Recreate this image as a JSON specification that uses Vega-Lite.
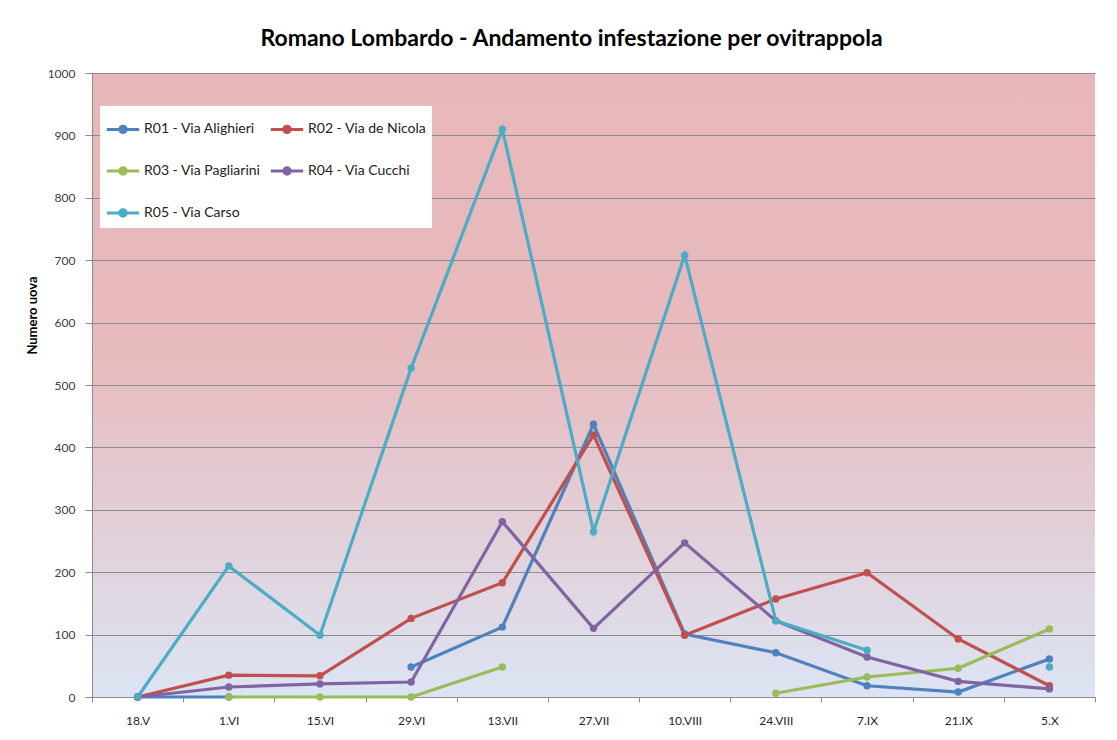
{
  "$schema": "https://vega.github.io/schema/vega-lite/v6.json",
  "width": 1003,
  "height": 624,
  "autosize": {"type": "none"},
  "padding": {"left": 92, "top": 73, "right": 22, "bottom": 43},
  "background": "white",
  "title": {
    "text": "Romano Lombardo - Andamento infestazione per ovitrappola",
    "font": "Lato",
    "fontSize": 23,
    "fontWeight": "bold",
    "color": "#000000",
    "anchor": "middle",
    "dx": -22,
    "offset": 16
  },
  "data": {
    "values": [
      {"date": "18.V", "series": "R01 - Via Alighieri", "value": 0},
      {"date": "1.VI", "series": "R01 - Via Alighieri", "value": 0},
      {"date": "15.VI", "series": "R01 - Via Alighieri", "value": null},
      {"date": "29.VI", "series": "R01 - Via Alighieri", "value": 48},
      {"date": "13.VII", "series": "R01 - Via Alighieri", "value": 112},
      {"date": "27.VII", "series": "R01 - Via Alighieri", "value": 437},
      {"date": "10.VIII", "series": "R01 - Via Alighieri", "value": 101},
      {"date": "24.VIII", "series": "R01 - Via Alighieri", "value": 71},
      {"date": "7.IX", "series": "R01 - Via Alighieri", "value": 18},
      {"date": "21.IX", "series": "R01 - Via Alighieri", "value": 8},
      {"date": "5.X", "series": "R01 - Via Alighieri", "value": 61},
      {"date": "18.V", "series": "R02 - Via de Nicola", "value": 0},
      {"date": "1.VI", "series": "R02 - Via de Nicola", "value": 35},
      {"date": "15.VI", "series": "R02 - Via de Nicola", "value": 34},
      {"date": "29.VI", "series": "R02 - Via de Nicola", "value": 126},
      {"date": "13.VII", "series": "R02 - Via de Nicola", "value": 183},
      {"date": "27.VII", "series": "R02 - Via de Nicola", "value": 420},
      {"date": "10.VIII", "series": "R02 - Via de Nicola", "value": 99},
      {"date": "24.VIII", "series": "R02 - Via de Nicola", "value": 157},
      {"date": "7.IX", "series": "R02 - Via de Nicola", "value": 199},
      {"date": "21.IX", "series": "R02 - Via de Nicola", "value": 93},
      {"date": "5.X", "series": "R02 - Via de Nicola", "value": 18},
      {"date": "18.V", "series": "R03 - Via Pagliarini", "value": null},
      {"date": "1.VI", "series": "R03 - Via Pagliarini", "value": 0},
      {"date": "15.VI", "series": "R03 - Via Pagliarini", "value": 0},
      {"date": "29.VI", "series": "R03 - Via Pagliarini", "value": 0},
      {"date": "13.VII", "series": "R03 - Via Pagliarini", "value": 48},
      {"date": "27.VII", "series": "R03 - Via Pagliarini", "value": null},
      {"date": "10.VIII", "series": "R03 - Via Pagliarini", "value": null},
      {"date": "24.VIII", "series": "R03 - Via Pagliarini", "value": 6},
      {"date": "7.IX", "series": "R03 - Via Pagliarini", "value": 32},
      {"date": "21.IX", "series": "R03 - Via Pagliarini", "value": 46},
      {"date": "5.X", "series": "R03 - Via Pagliarini", "value": 109},
      {"date": "18.V", "series": "R04 - Via Cucchi", "value": 0},
      {"date": "1.VI", "series": "R04 - Via Cucchi", "value": 16},
      {"date": "15.VI", "series": "R04 - Via Cucchi", "value": 21},
      {"date": "29.VI", "series": "R04 - Via Cucchi", "value": 24},
      {"date": "13.VII", "series": "R04 - Via Cucchi", "value": 281},
      {"date": "27.VII", "series": "R04 - Via Cucchi", "value": 110},
      {"date": "10.VIII", "series": "R04 - Via Cucchi", "value": 247},
      {"date": "24.VIII", "series": "R04 - Via Cucchi", "value": 122},
      {"date": "7.IX", "series": "R04 - Via Cucchi", "value": 64},
      {"date": "21.IX", "series": "R04 - Via Cucchi", "value": 25},
      {"date": "5.X", "series": "R04 - Via Cucchi", "value": 13},
      {"date": "18.V", "series": "R05 - Via Carso", "value": 0},
      {"date": "1.VI", "series": "R05 - Via Carso", "value": 210},
      {"date": "15.VI", "series": "R05 - Via Carso", "value": 99},
      {"date": "29.VI", "series": "R05 - Via Carso", "value": 527},
      {"date": "13.VII", "series": "R05 - Via Carso", "value": 910},
      {"date": "27.VII", "series": "R05 - Via Carso", "value": 265},
      {"date": "10.VIII", "series": "R05 - Via Carso", "value": 708},
      {"date": "24.VIII", "series": "R05 - Via Carso", "value": 122},
      {"date": "7.IX", "series": "R05 - Via Carso", "value": 75},
      {"date": "21.IX", "series": "R05 - Via Carso", "value": null},
      {"date": "5.X", "series": "R05 - Via Carso", "value": 48}
    ]
  },
  "encoding": {
    "x": {
      "field": "date",
      "type": "nominal",
      "sort": null,
      "scale": {"type": "band", "paddingInner": 0, "paddingOuter": 0,
        "domain": ["18.V","1.VI","15.VI","29.VI","13.VII","27.VII","10.VIII","24.VIII","7.IX","21.IX","5.X"]},
      "axis": {
        "title": null,
        "labelAngle": 0,
        "tickBand": "extent",
        "grid": false,
        "tickSize": 5,
        "tickColor": "#8c8c8c",
        "domainColor": "#8c8c8c",
        "labelFont": "Lato",
        "labelFontSize": 12,
        "labelColor": "#262626",
        "labelPadding": 13
      }
    },
    "y": {
      "field": "value",
      "type": "quantitative",
      "scale": {"domain": [0, 1000], "nice": false, "zero": true},
      "axis": {
        "title": "Numero uova",
        "titleFont": "Lato",
        "titleFontSize": 13,
        "titleFontWeight": "bold",
        "titleColor": "#000000",
        "titleX": -60,
        "titleY": 242,
        "titleAngle": -90,
        "titleAlign": "center",
        "titleBaseline": "middle",
        "values": [0,100,200,300,400,500,600,700,800,900,1000],
        "format": "d",
        "grid": true,
        "gridColor": "#8c8c8c",
        "gridWidth": 1.2,
        "tickSize": 7,
        "tickColor": "#8c8c8c",
        "domainColor": "#8c8c8c",
        "labelFont": "Lato",
        "labelFontSize": 12,
        "labelColor": "#404040",
        "labelPadding": 10
      }
    },
    "color": {
      "field": "series",
      "type": "nominal",
      "scale": {
        "domain": ["R01 - Via Alighieri","R02 - Via de Nicola","R03 - Via Pagliarini","R04 - Via Cucchi","R05 - Via Carso"],
        "range": ["#4F81BD","#C0504D","#9BBB59","#8064A2","#4BACC6"]
      },
      "legend": {
        "title": null,
        "orient": "none",
        "legendX": 8,
        "legendY": 33,
        "columns": 2,
        "direction": "horizontal",
        "fillColor": "white",
        "padding": 5,
        "rowPadding": 14,
        "columnPadding": 3,
        "symbolType": "M-1,0L1,0M0.2,0A0.2,0.2 0 1,1 -0.2,0A0.2,0.2 0 1,1 0.2,0Z",
        "symbolSize": 1050,
        "symbolStrokeWidth": 3,
        "labelFont": "Lato",
        "labelFontSize": 14,
        "labelColor": "#222222",
        "labelOffset": 3,
        "symbolOpacity": 1
      }
    }
  },
  "layer": [
    {
      "mark": {"type": "line", "strokeWidth": 3.2, "invalid": "break-paths-show-domains"}
    },
    {
      "transform": [{"filter": "datum.value != null"}],
      "mark": {"type": "point", "filled": true, "size": 55, "opacity": 1}
    }
  ],
  "config": {
    "view": {
      "stroke": null,
      "fill": {
        "gradient": "linear",
        "x1": 0, "y1": 0, "x2": 0, "y2": 1,
        "stops": [
          {"offset": 0, "color": "#E8B7BA"},
          {"offset": 0.45, "color": "#E7BABD"},
          {"offset": 1, "color": "#DCE4F3"}
        ]
      }
    }
  }
}
